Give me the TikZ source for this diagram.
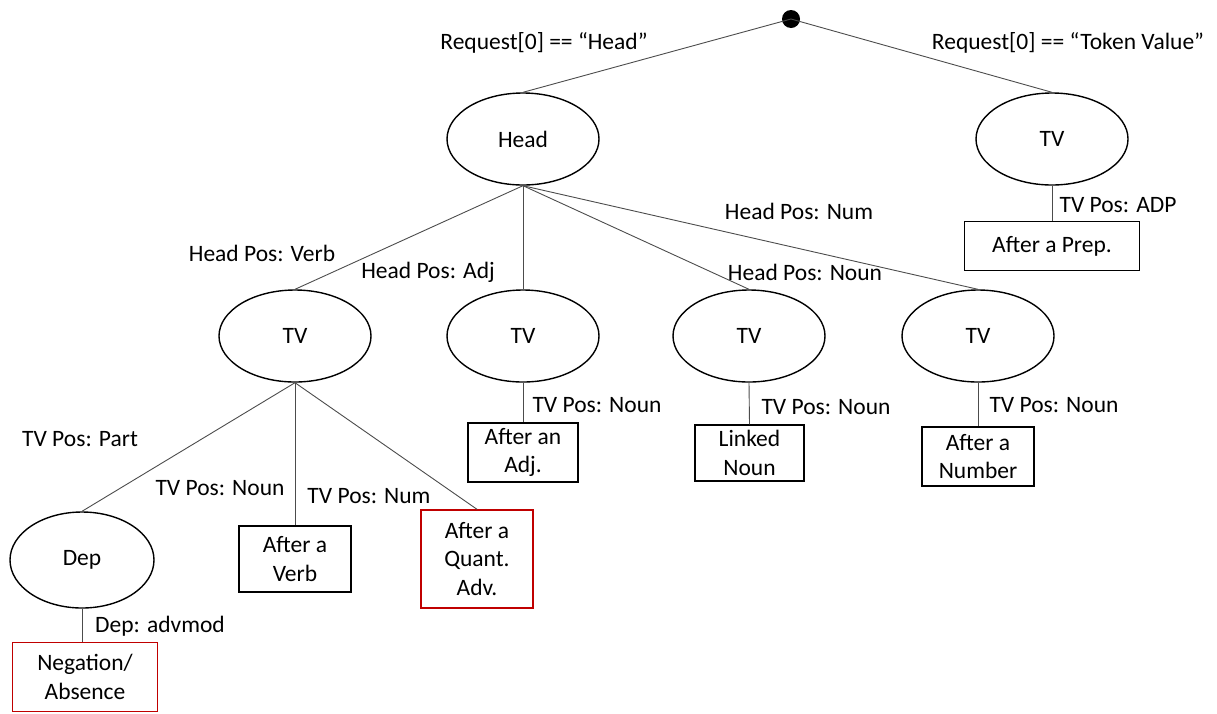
\documentclass[tikz,border=0pt]{standalone}
\usepackage{fontspec}
\setmainfont{Carlito}
\usetikzlibrary{shapes.geometric}
\definecolor{darkred}{RGB}{192,0,0}
\begin{document}
\begin{tikzpicture}[x=1pt,y=-1pt,
  every node/.style={font=\fontsize{23.5}{28.5}\selectfont},
  oval/.style={draw=black,line width=1.4pt,ellipse,inner sep=0pt,minimum width=152pt,minimum height=92pt},
  leaf/.style={draw=black,line width=1.4pt,rectangle,inner sep=0pt,align=center},
  redleaf/.style={leaf,draw=darkred},
  edge/.style={draw=black!70,line width=0.9pt},
  lbl/.style={inner sep=0pt}]
\useasboundingbox (0,0) rectangle (1217,713);

% root and first level
\node[circle,fill=black,inner sep=0pt,minimum size=18pt] (root) at (791,19) {};
\node[oval] (head) at (523,139) {Head};
\node[oval] (tvr) at (1052,139) {TV};
\draw[edge] (root.center) -- (head.north);
\draw[edge] (root.center) -- (tvr.north);
\node[lbl] (lreqh) at (544,43) {Request[0] == “Head”};
\node[lbl] (lreqt) at (1068,43) {Request[0] == “Token Value”};

% token value branch
\node[leaf,minimum width=175pt,minimum height=49pt] (prep) at (1052,246) {After a Prep.};
\draw[edge] (tvr.south) -- (prep.north);
\node[lbl] (ladp) at (1118,205) {TV Pos: ADP};

% head branch
\node[oval] (tv1) at (295,336) {TV};
\node[oval] (tv2) at (523,336) {TV};
\node[oval] (tv3) at (749,336) {TV};
\node[oval] (tv4) at (978,336) {TV};
\draw[edge] (head.south) -- (tv1.north);
\draw[edge] (head.south) -- (tv2.north);
\draw[edge] (head.south) -- (tv3.north);
\draw[edge] (head.south) -- (tv4.north);
\node[lbl] (lverb) at (262,253) {Head Pos: Verb};
\node[lbl] (ladj) at (428,272) {Head Pos: Adj};
\node[lbl] (lnoun) at (805,272) {Head Pos: Noun};
\node[lbl] (lnum) at (799,211) {Head Pos: Num};

% leaves under adjective, noun, number
\node[leaf,minimum width=110pt,minimum height=59pt] (adj) at (523,452.5) {After an\\Adj.};
\node[leaf,minimum width=109pt,minimum height=56pt] (linked) at (749.5,453) {Linked\\Noun};
\node[leaf,minimum width=112pt,minimum height=59pt] (number) at (978,456.5) {After a\\Number};
\draw[edge] (tv2.south) -- (adj.north);
\draw[edge] (tv3.south) -- (linked.north);
\draw[edge] (tv4.south) -- (number.north);
\node[lbl] (ln2) at (597,405) {TV Pos: Noun};
\node[lbl] (ln3) at (826,407) {TV Pos: Noun};
\node[lbl] (ln4) at (1054,405) {TV Pos: Noun};

% verb sub-tree
\node[oval,minimum width=144pt,minimum height=96pt] (dep) at (82,560) {Dep};
\node[leaf,minimum width=112pt,minimum height=66pt] (verb) at (295,559) {After a\\Verb};
\node[redleaf,minimum width=112pt,minimum height=98pt] (quant) at (477,559) {After a\\Quant.\\Adv.};
\draw[edge] (tv1.south) -- (dep.north);
\draw[edge] (tv1.south) -- (verb.north);
\draw[edge] (tv1.south) -- (quant.north);
\node[lbl] (lpart) at (80,439) {TV Pos: Part};
\node[lbl] (lvn) at (220,488) {TV Pos: Noun};
\node[lbl] (lvnum) at (369,496) {TV Pos: Num};

% dependency leaf
\node[redleaf,minimum width=145pt,minimum height=69pt] (neg) at (85,677) {Negation/\\Absence};
\draw[edge] (dep.south) -- (dep.south |- neg.north);
\node[lbl] (ladv) at (160,626) {Dep: advmod};
\end{tikzpicture}
\end{document}
